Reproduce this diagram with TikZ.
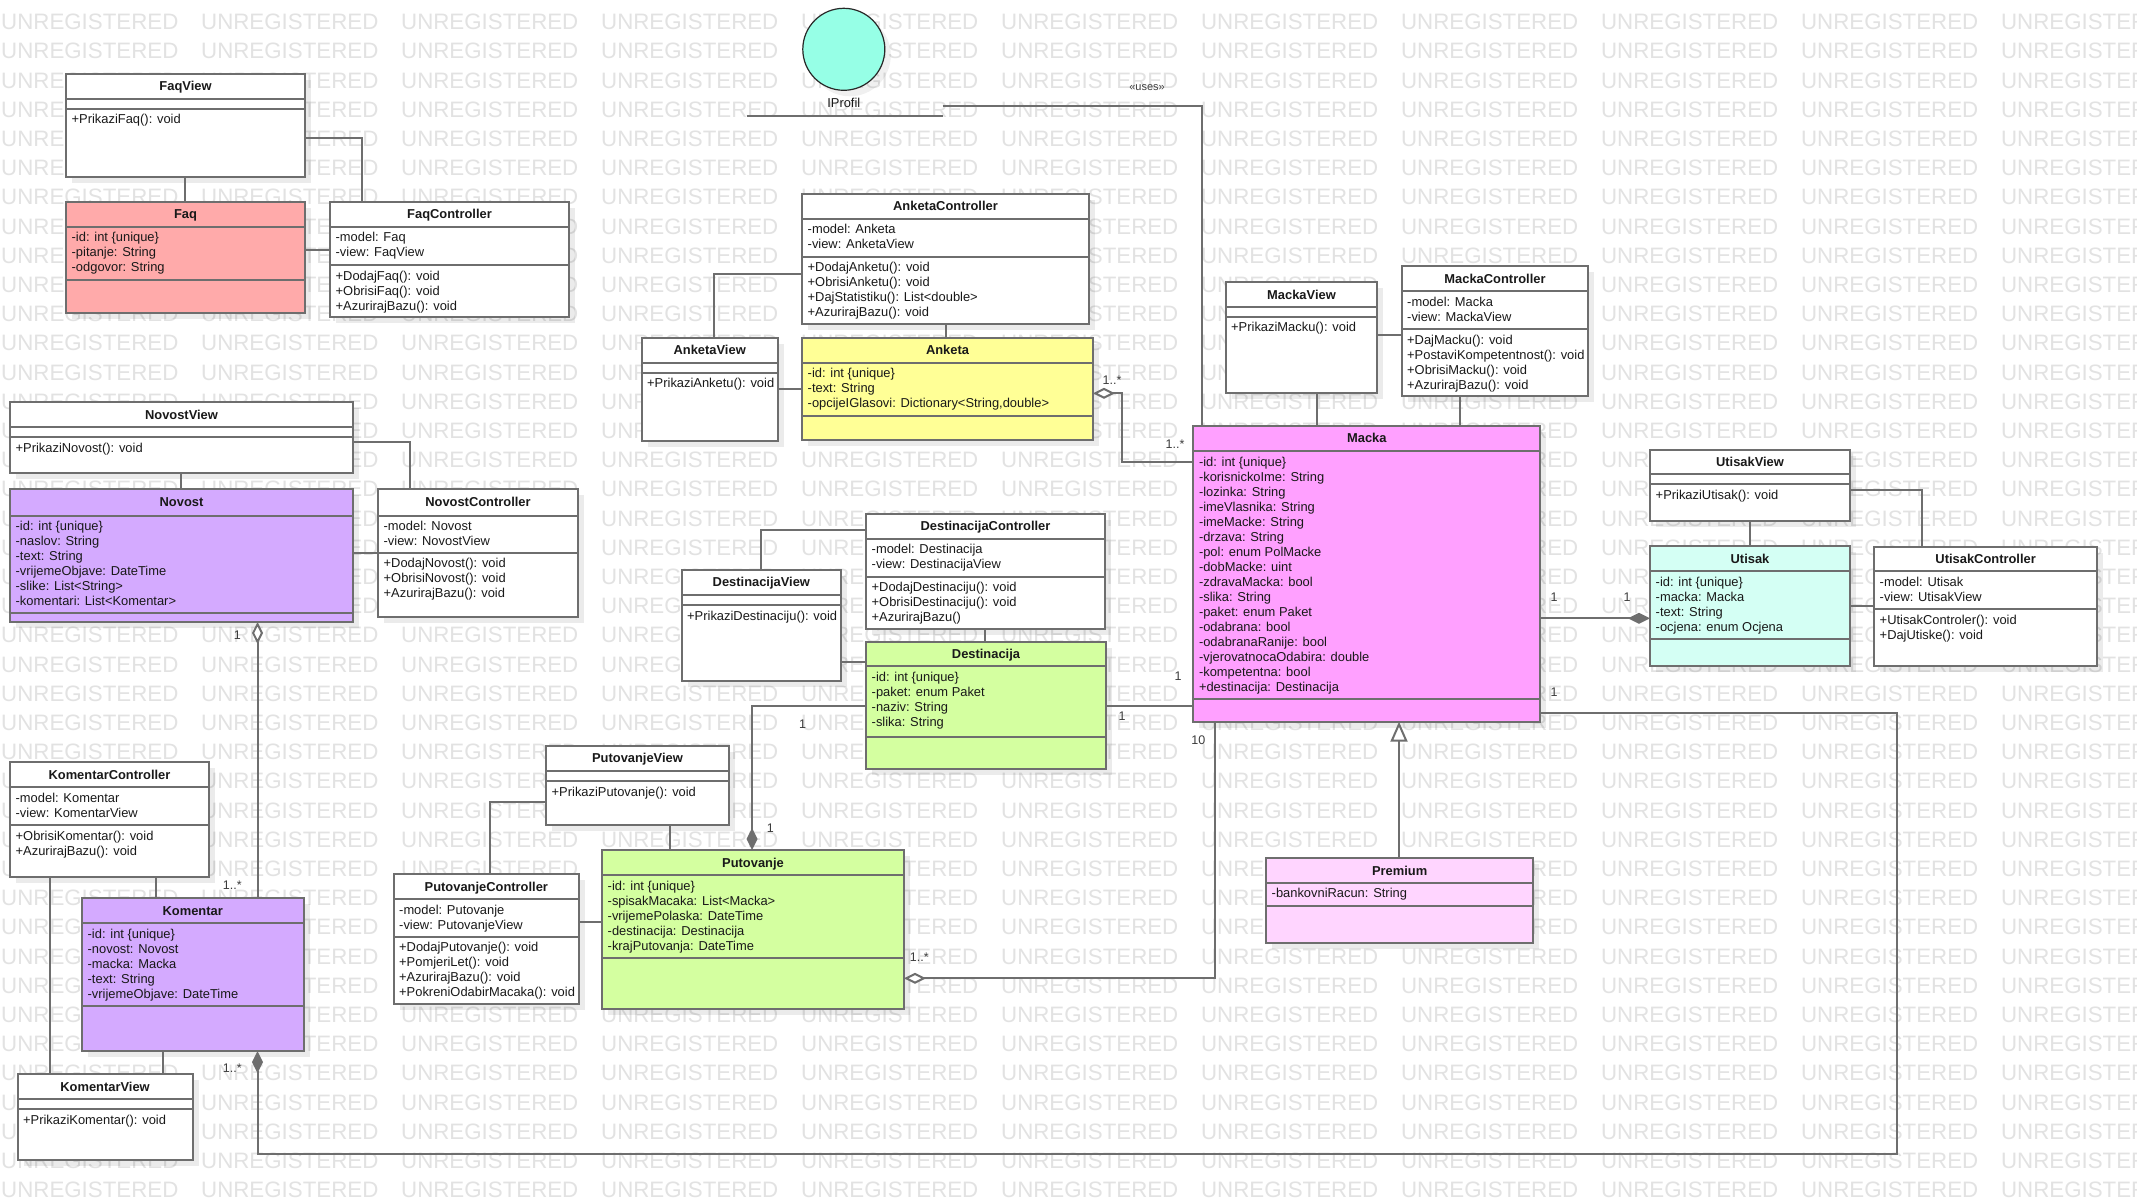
\documentclass[tikz,border=0pt]{standalone}
\usepackage{fontspec}
\setmainfont{Liberation Sans}
\newfontfamily\wmfont{Liberation Sans}
\usetikzlibrary{arrows.meta}
\definecolor{lc}{RGB}{110,110,110}
\definecolor{txc}{RGB}{25,25,25}
\definecolor{mtc}{RGB}{60,60,60}
\definecolor{wmc}{RGB}{226,226,226}
\definecolor{cfaq}{RGB}{255,170,170}
\definecolor{cnov}{RGB}{212,170,255}
\definecolor{cank}{RGB}{255,255,150}
\definecolor{cgrn}{RGB}{212,255,160}
\definecolor{cmac}{RGB}{255,160,255}
\definecolor{cprem}{RGB}{255,213,255}
\definecolor{cuti}{RGB}{212,255,244}
\definecolor{cipr}{RGB}{150,255,230}
\pgfdeclarelayer{wm}\pgfdeclarelayer{shadow}\pgfsetlayers{wm,shadow,main}
\tikzset{
  box/.style={draw=lc, line width=2pt, inner sep=0pt, outer sep=0pt, anchor=north west, rectangle},
  divl/.style={draw=lc, line width=2pt},
  ttl/.style={font=\fontsize{12.9}{15}\selectfont\bfseries, text=txc, anchor=base, inner sep=0pt},
  txt/.style={font=\fontsize{12.9}{15}\selectfont, text=txc, anchor=base west, inner sep=0pt},
  conn/.style={draw=lc, line width=2pt},
  mult/.style={font=\fontsize{12.5}{14}\selectfont, text=mtc, inner sep=0pt},
  wmk/.style={font=\wmfont\fontsize{22.3}{24}\selectfont, text=wmc, anchor=base west, inner sep=0pt},
  odia/.style={{Diamond[fill=white,length=22pt,width=11pt]}-},
  fdia/.style={{Diamond[length=22pt,width=11pt]}-},
  gen/.style={-{Triangle[fill=white,length=20pt,width=17pt]}},
}
\newcommand{\wmw}{\makebox[200pt][l]{UNREGISTERED}}
\newcommand{\wmline}{\wmw\wmw\wmw\wmw\wmw\wmw\wmw\wmw\wmw\wmw\wmw}
% #1 name, #2 x1, #3 y1, #4 x2, #5 y2, #6 header divider, #7 attribute divider, #8 fill, #9 title
\newcommand{\umlclass}[9]{%
  \begin{pgfonlayer}{shadow}
    \fill[black,opacity=0.08] ({#2+6},{#3+6}) rectangle ({#4+6},{#5+6});
  \end{pgfonlayer}
  \node[box, fill=#8, minimum width={#4pt-#2pt}, minimum height={#5pt-#3pt}] (#1) at (#2,#3) {};
  \draw[divl] (#2,#6) -- (#4,#6) (#2,#7) -- (#4,#7);
  \node[ttl] (#1-t) at ({(#2+#4)/2},{(#3+#6)/2+4.6}) {#9};
}
% #1 name prefix, #2 x, #3 first baseline, #4 list of lines
\newcommand{\ulines}[4]{%
  \foreach \t [count=\i from 0] in {#4} {\node[txt] (#1-\i) at (#2,{#3+15*\i}) {\t};}
}
\begin{document}
\begin{tikzpicture}[x=1pt,y=-1pt]
\useasboundingbox (0,0) rectangle (2137,1201);
\begin{pgfonlayer}{wm}
  \fill[white] (0,0) rectangle (2137,1201);
  \begin{scope}
    \clip (0,0) rectangle (2137,1201);
    \foreach \r in {0,...,40} {\node[wmk] (wm\r) at (1,{29.7+29.2*\r}) {\wmline};}
  \end{scope}
\end{pgfonlayer}

% ---------- Faq ----------
\umlclass{faqview}{66}{74}{305}{177}{98.7}{109}{white}{FaqView}
\ulines{faqview-o}{71.5}{124}{+PrikaziFaq(): void}
\umlclass{faq}{66}{202}{305}{313}{226.7}{280}{cfaq}{Faq}
\ulines{faq-a}{71.5}{241.7}{-id: int \{unique\}, -pitanje: String, -odgovor: String}
\umlclass{faqctrl}{330}{202}{569}{317}{226.7}{265}{white}{FaqController}
\ulines{faqctrl-a}{335.5}{241.7}{-model: Faq, -view: FaqView}
\ulines{faqctrl-o}{335.5}{280}{+DodajFaq(): void, +ObrisiFaq(): void, +AzurirajBazu(): void}

% ---------- Novost ----------
\umlclass{novostview}{10}{402}{353}{473}{427}{437}{white}{NovostView}
\ulines{novostview-o}{15.5}{452}{+PrikaziNovost(): void}
\umlclass{novost}{10}{489}{353}{622}{515.7}{612.7}{cnov}{Novost}
\ulines{novost-a}{15.5}{530.7}{-id: int \{unique\}, -naslov: String, -text: String, -vrijemeObjave: DateTime, -slike: List<String>, -komentari: List<Komentar>}
\umlclass{novostctrl}{378}{489}{578}{617}{515.7}{552.7}{white}{NovostController}
\ulines{novostctrl-a}{383.5}{530.7}{-model: Novost, -view: NovostView}
\ulines{novostctrl-o}{383.5}{567.7}{+DodajNovost(): void, +ObrisiNovost(): void, +AzurirajBazu(): void}

% ---------- Komentar ----------
\umlclass{komentarctrl}{10}{762}{209}{877}{787}{825}{white}{KomentarController}
\ulines{komentarctrl-a}{15.5}{802}{-model: Komentar, -view: KomentarView}
\ulines{komentarctrl-o}{15.5}{840}{+ObrisiKomentar(): void, +AzurirajBazu(): void}
\umlclass{komentar}{82}{898}{303.5}{1051}{923}{1006}{cnov}{Komentar}
\ulines{komentar-a}{87.5}{938}{-id: int \{unique\}, -novost: Novost, -macka: Macka, -text: String, -vrijemeObjave: DateTime}
\umlclass{komentarview}{17.6}{1074}{192.5}{1160}{1099}{1109}{white}{KomentarView}
\ulines{komentarview-o}{23}{1124}{+PrikaziKomentar(): void}

% ---------- Anketa ----------
\umlclass{anketactrl}{802}{194}{1089}{324}{218.7}{256.7}{white}{AnketaController}
\ulines{anketactrl-a}{807.5}{233.7}{-model: Anketa, -view: AnketaView}
\ulines{anketactrl-o}{807.5}{271.7}{+DodajAnketu(): void, +ObrisiAnketu(): void, +DajStatistiku(): List<double>, +AzurirajBazu(): void}
\umlclass{anketa}{802}{338}{1093}{440}{362.7}{415.7}{cank}{Anketa}
\ulines{anketa-a}{807.5}{377.7}{-id: int \{unique\}, -text: String, {-opcijeIGlasovi: Dictionary<String,double>}}
\umlclass{anketaview}{641.7}{338}{777.7}{440.7}{362.7}{372.7}{white}{AnketaView}
\ulines{anketaview-o}{647}{387.7}{+PrikaziAnketu(): void}

% ---------- Destinacija ----------
\umlclass{destctrl}{866}{514}{1105}{628.7}{538.7}{576.7}{white}{DestinacijaController}
\ulines{destctrl-a}{871.5}{553.7}{-model: Destinacija, -view: DestinacijaView}
\ulines{destctrl-o}{871.5}{591.7}{+DodajDestinaciju(): void, +ObrisiDestinaciju(): void, +AzurirajBazu()}
\umlclass{dest}{866}{642.3}{1106}{769.3}{666.3}{737.3}{cgrn}{Destinacija}
\ulines{dest-a}{871.5}{681.3}{-id: int \{unique\}, -paket: enum Paket, -naziv: String, -slika: String}
\umlclass{destview}{681.7}{570}{841}{681}{594.7}{605}{white}{DestinacijaView}
\ulines{destview-o}{687}{620}{+PrikaziDestinaciju(): void}

% ---------- Putovanje ----------
\umlclass{putview}{546}{746}{729}{824.7}{770.7}{781}{white}{PutovanjeView}
\ulines{putview-o}{551.5}{796}{+PrikaziPutovanje(): void}
\umlclass{put}{602}{850}{904}{1009.3}{875}{958.3}{cgrn}{Putovanje}
\ulines{put-a}{607.5}{890}{-id: int \{unique\}, -spisakMacaka: List<Macka>, -vrijemePolaska: DateTime, -destinacija: Destinacija, -krajPutovanja: DateTime}
\umlclass{putctrl}{393.6}{874}{579}{1004}{899}{936.7}{white}{PutovanjeController}
\ulines{putctrl-a}{399}{914}{-model: Putovanje, -view: PutovanjeView}
\ulines{putctrl-o}{399}{951.7}{+DodajPutovanje(): void, +PomjeriLet(): void, +AzurirajBazu(): void, +PokreniOdabirMacaka(): void}

% ---------- Macka ----------
\umlclass{mackaview}{1225.7}{282.3}{1377.3}{393.3}{306.7}{316.7}{white}{MackaView}
\ulines{mackaview-o}{1231}{331.7}{+PrikaziMacku(): void}
\umlclass{mackactrl}{1401.7}{266}{1588.3}{395.7}{291.3}{329}{white}{MackaController}
\ulines{mackactrl-a}{1407}{306.3}{-model: Macka, -view: MackaView}
\ulines{mackactrl-o}{1407}{344}{+DajMacku(): void, +PostaviKompetentnost(): void, +ObrisiMacku(): void, +AzurirajBazu(): void}
\umlclass{macka}{1193.3}{425.7}{1540.3}{721.7}{451}{699}{cmac}{Macka}
\ulines{macka-a}{1198.8}{466}{-id: int \{unique\}, -korisnickoIme: String, -lozinka: String, -imeVlasnika: String, -imeMacke: String, -drzava: String, -pol: enum PolMacke, -dobMacke: uint, -zdravaMacka: bool, -slika: String, -paket: enum Paket, -odabrana: bool, -odabranaRanije: bool, -vjerovatnocaOdabira: double, -kompetentna: bool, +destinacija: Destinacija}
\umlclass{premium}{1266}{858.3}{1533.3}{942.7}{882.7}{906}{cprem}{Premium}
\ulines{premium-a}{1271.5}{897.7}{-bankovniRacun: String}

% ---------- Utisak ----------
\umlclass{utisakview}{1650}{450}{1850}{520.7}{474.3}{484.3}{white}{UtisakView}
\ulines{utisakview-o}{1655.5}{499.3}{+PrikaziUtisak(): void}
\umlclass{utisak}{1650}{546}{1850}{665.7}{571}{639}{cuti}{Utisak}
\ulines{utisak-a}{1655.5}{586}{-id: int \{unique\}, -macka: Macka, -text: String, -ocjena: enum Ocjena}
\umlclass{utisakctrl}{1874}{546.7}{2097.3}{665.7}{571}{609}{white}{UtisakController}
\ulines{utisakctrl-a}{1879.5}{586}{-model: Utisak, -view: UtisakView}
\ulines{utisakctrl-o}{1879.5}{624}{+UtisakControler(): void, +DajUtiske(): void}

% ---------- IProfil ----------
\begin{pgfonlayer}{shadow}
  \fill[black,opacity=0.06] (849.8,55.3) circle (41);
\end{pgfonlayer}
\node[circle, draw={rgb,255:red,40;green,40;blue,40}, line width=1.2pt, fill=cipr, minimum size=82pt, inner sep=0pt] (iprofil) at (843.8,49.3) {};
\node[txt, anchor=base] (iprofil-l) at (843.8,108) {IProfil};
\coordinate (lp1) at (746.6,116);
\coordinate (lp2) at (942.5,116);
\coordinate (up1) at (942.5,106.3);
\coordinate (up2) at (1201.7,106.3);

% ---------- connectors ----------
\draw[conn] (faqview.south -| 185,0) -- (faq.north -| 185,0);
\draw[conn] (faqview.east |- 0,137.7) -| (faqctrl.north -| 361.6,0);
\draw[conn] (faq.east |- 0,250) -- (faqctrl.west |- 0,250);

\draw[conn] (novostview.south -| 180.6,0) -- (novost.north -| 180.6,0);
\draw[conn] (novostview.east |- 0,441.7) -| (novostctrl.north -| 410,0);
\draw[conn] (novost.east |- 0,553.3) -- (novostctrl.west |- 0,553.3);
\draw[conn, odia] (novost.south -| 257.5,0) -- (komentar.north -| 257.5,0);

\draw[conn] (komentarctrl.south -| 50,0) -- (komentarview.north -| 50,0);
\draw[conn] (komentarctrl.south -| 156,0) -- (komentar.north -| 156,0);
\draw[conn] (komentar.south -| 163.4,0) -- (komentarview.north -| 163.4,0);
\draw[conn, fdia] (komentar.south -| 257.5,0) -- (257.5,1154) -- (1897,1154) -- (1897,713.3) -- (macka.east |- 0,713.3);

\draw[conn] (anketactrl.west |- 0,274) -| (anketaview.north -| 714,0);
\draw[conn] (anketactrl.south -| 946,0) -- (anketa.north -| 946,0);
\draw[conn] (anketaview.east |- 0,389.3) -- (anketa.west |- 0,389.3);
\draw[conn, odia] (anketa.east |- 0,393.3) -- (1122,393.3) -- (1122,461.7) -- (macka.west |- 0,461.7);

\draw[conn] (destctrl.west |- 0,530) -| (destview.north -| 760.7,0);
\draw[conn] (destctrl.south -| 985,0) -- (dest.north -| 985,0);
\draw[conn] (destview.east |- 0,662) -- (dest.west |- 0,662);
\draw[conn, fdia] (put.north -| 752,0) -- (752,705.7) -- (dest.west |- 0,705.7);
\draw[conn] (dest.east |- 0,705.7) -- (macka.west |- 0,705.7);

\draw[conn] (putview.west |- 0,801.7) -| (putctrl.north -| 490,0);
\draw[conn] (putview.south -| 670,0) -- (put.north -| 670,0);
\draw[conn] (putctrl.east |- 0,921.7) -- (put.west |- 0,921.7);
\draw[conn, odia] (put.east |- 0,978.3) -- (1215,978.3) -- (macka.south -| 1215,0);

\draw[conn, gen] (premium.north -| 1399,0) -- (macka.south -| 1399,0);
\draw[conn] (mackaview.south -| 1317,0) -- (macka.north -| 1317,0);
\draw[conn] (mackactrl.south -| 1460,0) -- (macka.north -| 1460,0);
\draw[conn] (mackaview.east |- 0,335) -- (mackactrl.west |- 0,335);

\draw[conn] (lp1) -- (lp2);
\draw[conn] (up1) -- (up2) -- (macka.north -| up2);

\draw[conn] (utisakview.south -| 1750,0) -- (utisak.north -| 1750,0);
\draw[conn] (utisakview.east |- 0,490) -| (utisakctrl.north -| 1922.3,0);
\draw[conn] (utisak.east |- 0,605.7) -- (utisakctrl.west |- 0,605.7);
\draw[conn, fdia] (utisak.west |- 0,618.3) -- (macka.east |- 0,618.3);

% ---------- multiplicities ----------
\node[mult] (m1) at (237.3,635) {1};
\node[mult] (m2) at (232.3,885) {1..*};
\node[mult] (m3) at (232.3,1068.3) {1..*};
\node[mult] (m4) at (1112,380) {1..*};
\node[mult] (m5) at (1175,444) {1..*};
\node[mult] (m6) at (802.7,724) {1};
\node[mult] (m7) at (770.4,828) {1};
\node[mult] (m8) at (1122,716) {1};
\node[mult] (m9) at (1178,676) {1};
\node[mult] (m10) at (919.3,956.7) {1..*};
\node[mult] (m11) at (1198.3,740) {10};
\node[mult] (m12) at (1554,596.7) {1};
\node[mult] (m13) at (1627,596.7) {1};
\node[mult] (m14) at (1554,692) {1};
\node[mult, font=\fontsize{11}{12}\selectfont] (uses) at (1147,87.3) {«uses»};
\end{tikzpicture}
\end{document}
